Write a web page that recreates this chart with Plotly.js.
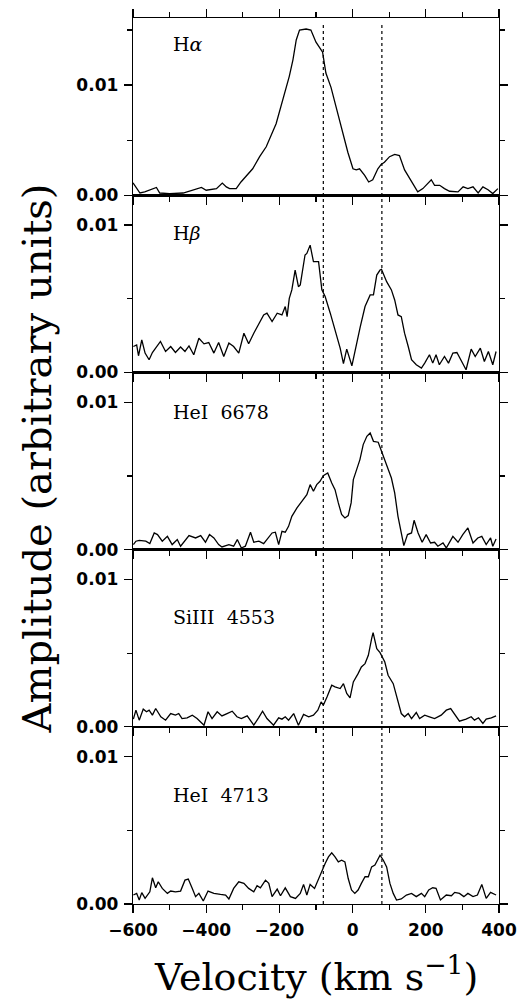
<!DOCTYPE html>
<html>
<head>
<meta charset="utf-8">
<script src="https://cdn.plot.ly/plotly-3.0.1.min.js"></script>
<style>html,body{margin:0;padding:0;background:#fff;}#chart{width:522px;height:999px;}</style>
</head>
<body>
<div id="chart"></div>
<script>
// ---- data (velocity in km/s, amplitude in arbitrary units) ----
const panelNames = ["H<i>α</i>", "H<i>β</i>", "HeI\u00a0\u00a06678", "SiIII\u00a0\u00a04553", "HeI\u00a0\u00a04713"];
const markerVelocities = [-80, 80];
const xTickLabels = ["−600", "−400", "−200", "0", "200", "400"];

const velHa = [-600,-581,-568,-554,-545,-536,-527,-500,-463,-436,-413,-400,-386,-372,-356,-345,-336,-318,-305,-291,-273,-254,-236,-209,-191,-173,-163,-154,-145,-127,-114,-100,-86,-82,-73,-59,-45,-27,-13,1,10,19,33,44,55,69,78,87,101,115,128,142,156,169,178,192,201,215,224,238,251,265,288,302,315,329,343,356,370,383,397];
const ampHa = [0.00112,0.0002,0.0003,0.00045,0.0006,0.0007,0.0002,0.00015,0.0002,0.00045,0.0007,0.00045,0.0005,0.0006,0.0011,0.00075,0.0006,0.0006,0.0012,0.0017,0.0024,0.0035,0.0044,0.0065,0.0086,0.0108,0.0123,0.0141,0.0150,0.0151,0.0150,0.0139,0.0132,0.0130,0.0111,0.0098,0.0080,0.0056,0.0039,0.0024,0.0023,0.0024,0.0018,0.0012,0.0014,0.0024,0.0028,0.0030,0.0035,0.0037,0.0036,0.0023,0.0015,0.00076,0.0003,0.0006,0.0009,0.0014,0.0009,0.0009,0.0006,0.00036,0.0003,0.00076,0.0006,0.00076,0.0002,0.00076,0.0005,0.00015,0.0006];

const velHb = [-599,-590,-585,-576,-567,-556,-547,-534,-525,-511,-497,-484,-470,-458,-447,-434,-420,-406,-393,-379,-366,-352,-338,-325,-311,-297,-284,-270,-257,-243,-234,-220,-206,-193,-184,-179,-173,-166,-157,-148,-143,-130,-125,-116,-107,-93,-84,-75,-61,-48,-34,-25,-16,-2,9,21,34,48,57,66,75,79,93,106,115,124,133,142,152,161,174,188,197,210,219,228,237,251,262,274,285,296,310,324,335,349,360,371,383,392];
const ampHb = [0.00176,0.00187,0.00113,0.00221,0.00131,0.00086,0.00135,0.00176,0.0021,0.00142,0.00176,0.00135,0.00172,0.00142,0.0018,0.0012,0.00232,0.00194,0.00203,0.00131,0.00203,0.00108,0.00199,0.00176,0.00131,0.00266,0.00194,0.00266,0.00323,0.0039,0.00402,0.00345,0.00402,0.0039,0.00447,0.00379,0.00503,0.0056,0.00695,0.00582,0.00594,0.00797,0.00808,0.00864,0.00752,0.00752,0.0056,0.00515,0.00402,0.00289,0.00165,0.00059,0.00158,0.00045,0.00176,0.00311,0.00447,0.00526,0.00526,0.00661,0.00695,0.007,0.00616,0.0056,0.00492,0.0039,0.00379,0.00266,0.00176,0.00086,0.00052,0.00029,0.00063,0.0012,0.00063,0.0012,0.00052,0.00108,0.00063,0.00131,0.00135,0.00086,0.00018,0.00158,0.00108,0.00165,0.00074,0.00142,0.00052,0.00142];

const velHe6678 = [-599,-592,-583,-565,-554,-542,-533,-520,-506,-493,-479,-470,-447,-429,-415,-402,-391,-379,-366,-357,-338,-325,-315,-304,-293,-279,-270,-256,-243,-234,-220,-211,-202,-193,-184,-175,-166,-152,-138,-125,-116,-107,-98,-89,-80,-68,-57,-48,-39,-30,-21,-12,-4,2,11,20,29,39,48,57,70,79,88,97,106,115,124,133,140,150,161,168,179,190,201,213,224,233,247,256,274,288,301,315,329,342,353,365,377,383,392];
const ampHe6678 = [0.00034,0.00057,0.00063,0.00057,0.00041,0.00113,0.00102,0.00057,0.0009,0.00034,0.00068,0.00023,0.00095,0.00079,0.00095,0.0005,0.00102,0.00079,0.00034,0.00018,0.00034,0.00023,0.00068,0.00011,0.00023,0.00118,0.0005,0.00057,0.00041,0.00072,0.00113,0.00118,0.00034,0.00124,0.00118,0.00158,0.00226,0.00283,0.00328,0.00373,0.00441,0.00396,0.00441,0.00464,0.00502,0.0052,0.00452,0.00407,0.00317,0.00238,0.00215,0.00231,0.00317,0.00475,0.00543,0.00611,0.00713,0.00769,0.00792,0.00735,0.00729,0.00667,0.00611,0.00543,0.00486,0.00385,0.00226,0.00113,0.00027,0.00102,0.00113,0.00199,0.00113,0.0005,0.00102,0.00045,0.0005,0.00023,0.00045,0.00011,0.0009,0.0005,0.00102,0.00147,0.00045,0.00079,0.0009,0.00034,0.00079,0.00023,0.00072];

const velSi4553 = [-599,-592,-583,-572,-563,-556,-547,-538,-524,-511,-497,-484,-475,-466,-452,-438,-425,-406,-395,-384,-370,-357,-343,-329,-316,-304,-288,-270,-257,-246,-234,-216,-202,-193,-184,-175,-161,-148,-134,-120,-107,-95,-86,-80,-70,-57,-48,-34,-25,-16,-7,2,15,24,34,43,52,56,66,75,88,97,111,124,133,142,152,161,174,183,197,210,224,242,256,268,283,292,310,324,333,344,356,365,379,392];
const ampSi4553 = [0.00052,0.00113,0.00045,0.0012,0.00102,0.00113,0.00079,0.00124,0.00068,0.00045,0.0009,0.00079,0.0009,0.00056,0.00061,0.00079,0.00056,0.00011,0.00102,0.00056,0.00102,0.00074,0.0009,0.00106,0.00068,0.00056,0.00074,0.00011,0.00061,0.00106,0.00056,0.00011,0.00061,0.00052,0.00068,0.00045,0.0009,0.00011,0.00084,0.00068,0.00079,0.00113,0.00169,0.00147,0.00203,0.00282,0.00271,0.0026,0.00293,0.00226,0.00196,0.00305,0.00361,0.00406,0.00429,0.00485,0.00598,0.00639,0.0053,0.00503,0.0044,0.0035,0.00293,0.00169,0.0009,0.00068,0.0009,0.00056,0.00097,0.00056,0.00079,0.00068,0.00056,0.00079,0.00113,0.00124,0.00068,0.00038,0.00052,0.00068,0.00045,0.00061,0.00023,0.00052,0.00061,0.00074];

const velHe4713 = [-599,-590,-583,-576,-567,-554,-547,-538,-531,-520,-506,-497,-484,-470,-458,-449,-438,-429,-420,-408,-395,-379,-361,-347,-338,-325,-311,-297,-284,-270,-261,-252,-238,-229,-220,-206,-197,-184,-170,-156,-143,-134,-125,-116,-104,-93,-84,-75,-66,-57,-48,-39,-30,-21,-12,-3,6,15,24,34,43,52,61,68,75,84,93,102,111,120,133,147,161,174,188,197,208,219,228,240,256,270,279,292,304,315,329,341,353,365,377,392];
const ampHe4713 = [0.00061,0.00072,0.00027,0.00077,0.00038,0.00083,0.00178,0.0011,0.00151,0.00106,0.00072,0.00088,0.00083,0.00088,0.00162,0.00169,0.00106,0.0005,0.00072,0.0002,0.00088,0.00072,0.00065,0.00061,0.00034,0.00106,0.00151,0.0014,0.00106,0.00083,0.00124,0.0011,0.00162,0.0014,0.0005,0.00101,0.00056,0.0011,0.0005,0.00038,0.00072,0.00133,0.00061,0.00133,0.00106,0.00173,0.00218,0.00275,0.0032,0.00347,0.0032,0.00286,0.00297,0.00286,0.00173,0.00095,0.00072,0.00095,0.0014,0.00185,0.00185,0.00252,0.00264,0.00297,0.00331,0.00297,0.00252,0.0014,0.00072,0.00027,0.00034,0.00061,0.00072,0.0005,0.00072,0.0005,0.00095,0.0011,0.00106,0.00027,0.00061,0.00056,0.00079,0.00072,0.0005,0.00072,0.0005,0.00061,0.00133,0.00038,0.00079,0.00061];

const seriesVel = [velHa, velHb, velHe6678, velSi4553, velHe4713];
const seriesAmp = [ampHa, ampHb, ampHe6678, ampSi4553, ampHe4713];
const yMax = [0.0161, 0.01203, 0.01203, 0.01203, 0.01203];

// ---- figure ----
const tickFont = {family: "DejaVu Sans", size: 17, color: "#000", weight: 600};
const serif = "DejaVu Serif";
const labelY = [0.9707, 0.7573, 0.5556, 0.3234, 0.1230];

const data = [];
const layout = {
  width: 522, height: 999,
  font: {family: "DejaVu Sans", size: 17, color: "#000"},
  margin: {l: 133, r: 23, t: 18, b: 95, pad: 0},
  paper_bgcolor: "#fff", plot_bgcolor: "#fff",
  showlegend: false,
  shapes: [], annotations: []
};

for (let i = 0; i < 5; i++) {
  const n = i + 1;
  const xa = "x" + (n === 1 ? "" : n), ya = "y" + (n === 1 ? "" : n);
  data.push({
    x: seriesVel[i], y: seriesAmp[i], xaxis: xa, yaxis: ya,
    type: "scatter", mode: "lines",
    line: {color: "#000", width: 1.3}, hoverinfo: "skip"
  });
  const top = 1 - 0.2 * i, bottom = 0.8 - 0.2 * i;
  layout["xaxis" + (n === 1 ? "" : n)] = {
    domain: [0, 1], anchor: ya, range: [-600, 400],
    matches: n === 1 ? undefined : "x",
    showgrid: false, zeroline: false,
    showline: true, linecolor: "#000", linewidth: 1.3,
    mirror: i === 0 ? "ticks" : true,
    ticks: "outside", ticklen: 8, tickwidth: 1.3, tickcolor: "#000",
    tickmode: "array", tickvals: [-600, -400, -200, 0, 200, 400], ticktext: xTickLabels,
    minor: {ticks: "outside", ticklen: 5, tickwidth: 1.3, tickcolor: "#000", dtick: 100, tick0: 0, showgrid: false},
    showticklabels: i === 4, tickfont: tickFont, ticklabelstandoff: 2
  };
  layout["yaxis" + (n === 1 ? "" : n)] = {
    domain: [bottom, top], anchor: xa, range: [0, yMax[i]],
    showgrid: false, zeroline: false,
    showline: true, linecolor: "#000", linewidth: 1.3, mirror: "ticks",
    ticks: "outside", ticklen: 8, tickwidth: 1.3, tickcolor: "#000",
    dtick: 0.01, tick0: 0, tickformat: ".2f",
    minor: {ticks: "outside", ticklen: 5, tickwidth: 1.3, tickcolor: "#000", dtick: 0.005, tick0: 0, showgrid: false},
    tickfont: tickFont, ticklabelstandoff: 2
  };
  layout.annotations.push({
    xref: "paper", yref: "paper", x: 0.1038, y: labelY[i],
    xanchor: "left", yanchor: "middle", showarrow: false,
    text: panelNames[i], font: {family: serif, size: 19, color: "#000"}
  });
}

markerVelocities.forEach(v => {
  layout.shapes.push({type: "line", xref: "x", yref: "paper", x0: v, x1: v, y0: 0, y1: 0.995,
    line: {color: "#000", width: 1.2, dash: "dot"}});
});

layout.annotations.push({
  xref: "paper", yref: "paper", x: 0.5, y: -0.0795, xanchor: "center", yanchor: "middle",
  showarrow: false, text: "Velocity (km s<sup>−1</sup>)", font: {family: serif, size: 38, color: "#000"}
});
layout.annotations.push({
  xref: "paper", yref: "paper", x: -0.2637, y: 0.5035, xanchor: "center", yanchor: "middle",
  textangle: -90, showarrow: false, text: "Amplitude (arbitrary units)", font: {family: serif, size: 40, color: "#000"}
});

Plotly.newPlot("chart", data, layout, {displayModeBar: false, staticPlot: true});
</script>
</body>
</html>
